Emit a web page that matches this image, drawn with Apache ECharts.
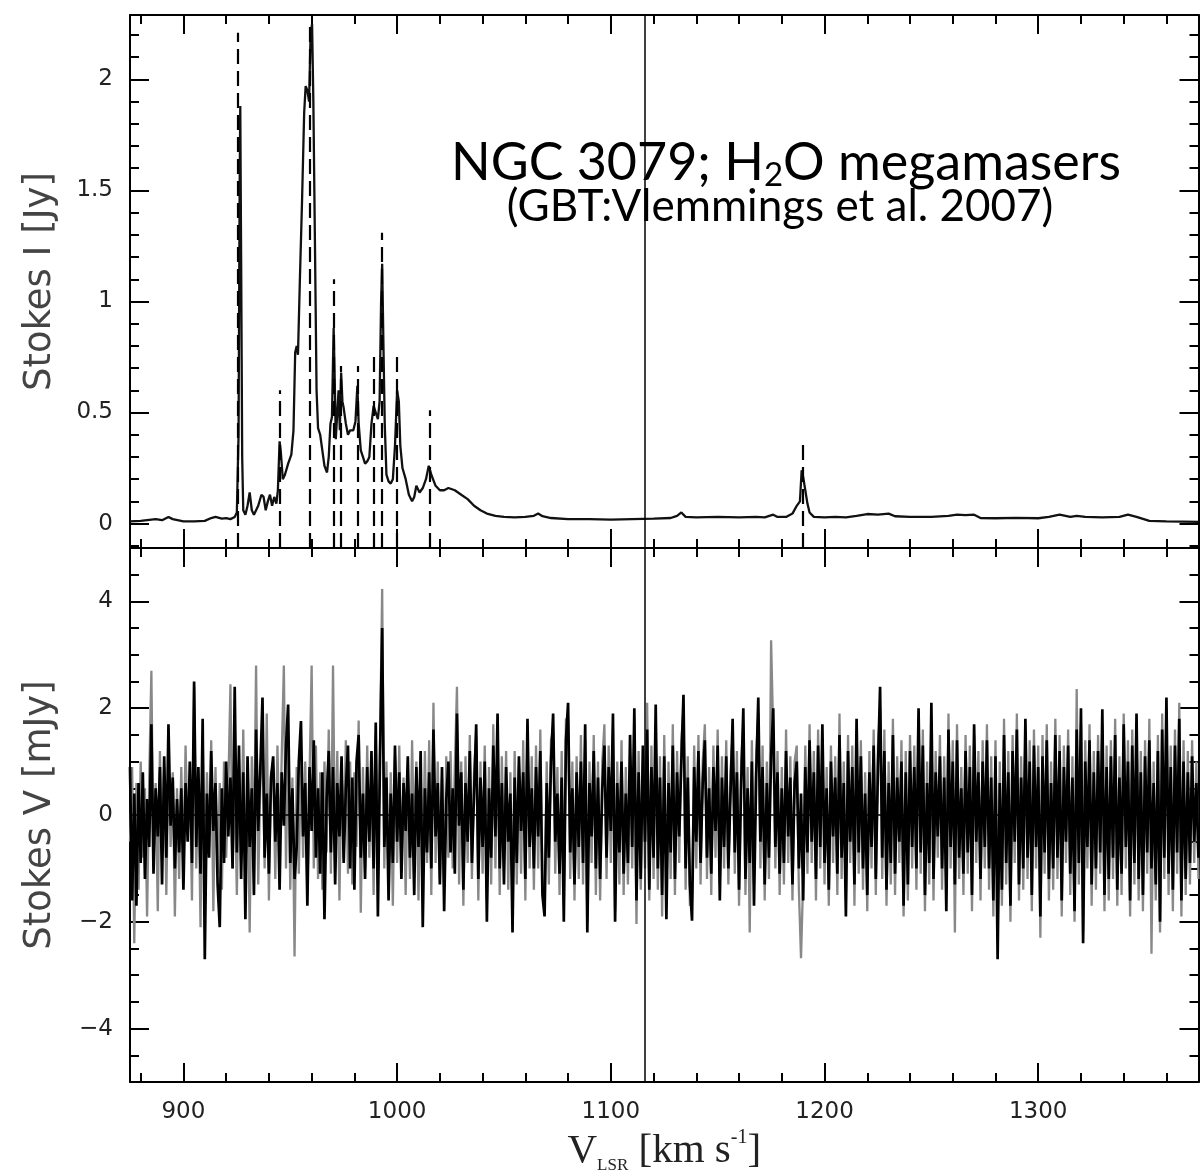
<!DOCTYPE html>
<html>
<head>
<meta charset="utf-8">
<title>NGC 3079 H2O megamasers</title>
<script src="https://cdn.jsdelivr.net/npm/echarts/dist/echarts.min.js"></script>
<style>
  html, body { margin: 0; padding: 0; background: #fff; }
  #chart { width: 1200px; height: 1175px; }
</style>
</head>
<body>
<div id="chart"></div>
<script>
  // Stokes I spectrum (km/s, Jy)
  var stokesIVel = [875, 880, 885, 887, 890, 893, 895, 900, 905, 910, 913, 915, 918, 920, 922, 924, 925,
    925.8, 926.3, 926.6, 927, 927.5, 928, 929, 930, 931, 932, 933, 934, 935, 936.5, 937.5, 938.5, 939.5,
    940.5, 941.5, 942.5, 943.5, 944.2, 945, 945.6, 946.5, 947.5, 949, 950.5, 951.5, 952.3, 953, 953.6,
    954.5, 955.5, 956.5, 957.2, 958, 958.8, 959.5, 960.2, 960.8, 961.5, 962.3, 963, 964, 965, 966, 967.2,
    968, 968.8, 969.5, 970.3, 970.8, 971.3, 972, 972.6, 973.2, 973.8, 974.4, 975, 976, 977, 978, 979.5,
    980.5, 981.4, 982, 983, 984, 985, 986, 987, 988, 989, 990, 991, 991.8, 992.5, 993, 993.6, 994.2, 995,
    996, 997, 998, 999, 1000, 1000.8, 1001.5, 1002.5, 1004, 1005.5, 1007, 1008, 1009, 1010.5, 1012, 1013.5,
    1014.8, 1016, 1018, 1020, 1022, 1024, 1027, 1030, 1033, 1036, 1039, 1042, 1046, 1050, 1055, 1060, 1064,
    1066, 1068, 1072, 1080, 1090, 1100, 1110, 1120, 1128, 1131, 1133, 1135, 1140, 1150, 1160, 1168, 1172,
    1176, 1178, 1182, 1185, 1187, 1188.5, 1189.3, 1190, 1191, 1192, 1193, 1195, 1200, 1205, 1210, 1215,
    1220, 1225, 1230, 1233, 1240, 1250, 1258, 1262, 1266, 1270, 1273, 1280, 1290, 1300, 1305, 1310, 1315,
    1318, 1322, 1330, 1338, 1342, 1346, 1352, 1360, 1375];
  var stokesIJy = [0.01, 0.012, 0.018, 0.02, 0.015, 0.03, 0.02, 0.01, 0.01, 0.012, 0.025, 0.03, 0.022, 0.025, 0.02, 0.03, 0.05,
    0.4, 1.5, 1.88, 1.2, 0.3, 0.06, 0.04, 0.08, 0.14, 0.06, 0.04, 0.06, 0.08, 0.13, 0.12, 0.06, 0.1,
    0.13, 0.08, 0.12, 0.09, 0.15, 0.37, 0.32, 0.2, 0.22, 0.27, 0.31, 0.42, 0.77, 0.8, 0.76,
    1.1, 1.45, 1.85, 1.97, 1.95, 1.9, 2.2, 2.25, 1.9, 1.3, 0.6, 0.43, 0.4, 0.33, 0.26, 0.23,
    0.3, 0.45, 0.48, 0.88, 0.65, 0.38, 0.5, 0.6, 0.42, 0.68, 0.55, 0.52, 0.45, 0.4, 0.42, 0.42,
    0.46, 0.62, 0.45, 0.33, 0.3, 0.27, 0.28, 0.3, 0.45, 0.53, 0.5, 0.47, 0.55, 1.0, 1.17, 0.8, 0.45, 0.22,
    0.19, 0.18, 0.2, 0.35, 0.6, 0.55, 0.35, 0.25, 0.2, 0.13, 0.1, 0.12, 0.17, 0.14, 0.16, 0.2,
    0.26, 0.22, 0.17, 0.15, 0.15, 0.16, 0.15, 0.13, 0.11, 0.08, 0.06, 0.045, 0.035, 0.03, 0.028, 0.03, 0.035,
    0.045, 0.033, 0.025, 0.02, 0.02, 0.018, 0.02, 0.022, 0.025, 0.035, 0.05, 0.03, 0.028, 0.03, 0.028, 0.03, 0.028,
    0.04, 0.03, 0.03, 0.045, 0.08, 0.1, 0.24, 0.21, 0.15, 0.09, 0.05, 0.03, 0.028, 0.03, 0.028, 0.035,
    0.043, 0.04, 0.045, 0.033, 0.03, 0.03, 0.035, 0.04, 0.038, 0.04, 0.025, 0.024, 0.026, 0.024, 0.03, 0.04, 0.03,
    0.035, 0.03, 0.028, 0.03, 0.04, 0.03, 0.012, 0.01, 0.008];

  // maser components marked with dashed lines (km/s, top of the dash in Jy)
  var maserVel = [925.2, 945.1, 959.3, 970.3, 973.8, 981.5, 989.0, 992.7, 1000.0, 1015.2, 1189.8];
  var maserTop = [2.21, 0.60, 2.26, 1.10, 0.71, 0.71, 0.78, 1.31, 0.78, 0.51, 0.37];

  // Stokes V (mJy), one channel per km/s starting at 875 km/s
  var vChanStart = 875;
  var vChanStep = 1;
  var stokesVBlack = [
    0.9, -1.6, 0.4, -1.7, 0.6, -0.9, 0.8, -1.2, 0.3, -0.6,
    1.7, -1.1, 0.5, -0.4, 0.9, -1.3, 1.1, -0.8, 1.7, -0.2,
    0.7, -1.0, 0.3, -0.7, 0.5, -1.4, 0.6, -0.5, 1.0, -0.9,
    2.5, -0.6, 0.9, -1.1, 1.8, -2.7, 0.4, -0.8, 1.2, -0.3,
    0.6, -1.3, -2.1, 0.5, -0.9, 1.0, -0.4, 0.7, -1.0, 2.4,
    -0.7, 1.3, -1.2, 0.8, -1.95, 1.1, -0.6, 0.5, -1.5, 1.6,
    -0.3, 0.9, 2.2, -0.8, 0.4, -1.1, 0.7, 1.1, -0.5, 0.6,
    -1.4, 0.8, -0.2, 1.3, 2.07, -0.9, 0.5, -1.2, -0.6, 1.0,
    1.76, -0.4, 0.6, -1.7, 0.9, -0.3, 1.4, -0.8, 0.5, -1.1,
    0.8, -1.95, 0.3, 1.2, -0.7, 0.9, -1.3, 0.6, -0.4, 1.1,
    -0.9, 0.5, 1.3, -1.0, 0.7, -1.4, 1.0, 1.5, -0.8, 0.4,
    -1.2, 0.9, -0.5, 1.2, -1.0, 1.73, -1.9, 1.1, 3.5, -0.6,
    0.7, -1.6, 0.4, -0.9, 1.3, -0.5, 0.8, -1.2, 0.6, -0.3,
    1.1, -0.8, 0.4, -1.5, 0.9, -0.6, 1.2, -2.1, 0.5, -0.7,
    0.8, -1.0, 1.6, -0.4, 0.6, -1.3, 0.9, -1.8, 0.3, 1.0,
    -0.7, 0.5, -1.1, 1.9, -0.2, 0.8, -1.4, 0.6, -0.5, 1.2,
    -0.9, 0.4, 1.7, -1.2, 0.7, -0.6, 1.0, -2.0, 0.5, -0.8,
    1.3, -0.4, 1.9, -1.0, 0.6, -1.3, 0.9, -0.5, 0.4, -2.2,
    0.7, -0.9, 1.1, -0.3, 0.8, -1.2, 1.8, -0.6, 0.5, -1.0,
    0.9, -0.4, 1.2, -1.5, -1.9, 0.6, -0.8, 1.0, 1.9, -0.5,
    0.4, -1.1, 0.7, -2.0, 1.4, 2.1, -0.7, 0.5, -1.3, 0.8,
    -0.6, 1.0, -0.9, 1.7, -2.2, 0.6, -0.4, 1.2, -1.0, 0.7,
    -1.2, 0.5, 1.3, -0.8, 0.9, -0.3, 1.9, -2.0, 0.6, -0.7,
    1.0, -1.1, 0.4, -0.9, 1.5, -0.6, 2.0, -1.6, 0.8, -1.2,
    1.3, -0.5, 1.6, -1.4, 0.9, -0.8, 2.07, -1.0, 0.7, -1.5,
    1.1, -1.95, 0.6, -0.7, 1.3, -1.2, 0.8, -0.4, 1.0, 2.25,
    -1.0, 0.7, -1.3, -1.98, 0.9, -0.5, 1.2, -0.9, 0.6, 1.4,
    -0.8, 0.5, -1.1, 0.9, -0.3, 1.3, -1.6, 0.7, -0.6, 1.1,
    -1.0, 0.4, 1.8, -0.7, 0.8, -1.4, 0.6, 2.0, -1.2, 0.5,
    -0.9, 1.0, -1.7, 0.7, 2.2, -0.5, 0.9, -1.3, 0.6, -0.8,
    1.1, 2.0, -0.6, 0.8, -1.1, 0.5, -0.9, 1.2, -0.4, 0.7,
    -1.3, 0.6, 1.0, -1.0, 0.4, -1.6, 0.9, -0.7, 1.4, -0.5,
    0.8, -1.2, 1.3, -0.6, 1.7, -0.9, 0.5, -1.4, 1.0, -0.4,
    0.7, -1.1, 1.5, -0.8, 0.6, -1.9, 1.2, -0.5, 0.9, -1.3,
    1.8, -0.7, 1.1, -1.0, 0.4, -1.5, 0.8, -0.6, 1.3, -1.2,
    0.9, 2.4, -0.8, 1.2, -1.4, 0.6, -0.9, 1.5, -1.1, 0.7,
    -0.5, 1.0, -1.7, 0.8, -1.3, 1.2, -0.6, 0.9, -1.0, 2.0,
    -0.7, 1.3, -1.5, 0.6, -0.9, 2.1, -1.2, 0.8, -0.4, 1.1,
    -1.0, 0.7, -1.8, 1.6, -0.6, 1.0, -1.3, 1.4, -0.8, 0.5,
    -1.1, 1.2, -0.7, 0.9, -1.5, 1.7, -0.5, 0.8, -1.2, 1.0,
    -0.6, 1.4, -1.0, 0.7, -1.6, 1.1, -2.7, 0.6, -1.4, 1.5,
    -0.9, 0.8, -1.7, 1.2, -0.5, 1.6, -1.3, 0.7, -1.0, 1.8,
    -0.8, 1.0, -1.5, 1.3, -0.6, 0.9, -1.9, 1.1, -0.7, 1.4,
    -1.2, 0.6, -1.0, 1.5, -0.8, 1.2, -1.6, 0.9, -0.5, 1.3,
    -1.1, 0.7, -1.8, 1.6, -0.9, 2.0, -2.4, 1.0, -0.6, 1.4,
    -1.3, 0.8, -1.0, 1.2, -0.7, 1.98, -1.5, 0.9, -1.2, 1.1,
    -0.8, 1.5, -1.4, 0.7, -1.1, 1.7, -0.6, 1.0, -1.6, 1.3,
    -0.9, 1.9, -1.2, 0.8, -1.5, 1.1, -0.7, 1.4, -1.0, 0.6,
    -1.3, 1.2, -2.0, 1.6, -0.8, 2.2, -1.1, 0.9, -1.4, 1.3,
    -0.7, 1.8, -1.6, 1.0, -1.2, 0.8, -0.9, 1.1, -0.5, 0.6,
    -0.8];
  var stokesVGray = [
    -0.5, 0.9, -2.4, 0.6, -1.4, 1.0, -0.8, 0.5, -1.9, 0.7,
    2.7, -0.9, 0.6, -1.8, 1.2, -0.7, 0.9, -1.5, 1.0, -0.6,
    0.8, -1.9, 0.5, -1.2, 0.9, -1.0, 1.3, -0.4, 0.7, -1.6,
    2.4, -1.0, 0.6, -2.1, 1.5, -1.2, 0.8, -0.6, 1.4, -1.8,
    0.9, -1.1, 0.6, -1.4, 1.0, -0.8, 0.5, 2.45, -1.0, 0.7,
    -1.5, 1.0, -0.9, 1.6, -1.2, 0.8, -2.2, 1.1, -0.7, 2.8,
    -1.3, 0.6, 1.5, -1.0, 1.9, -1.6, 0.8, 0.9, -1.2, 1.3,
    -0.8, 1.1, 2.8, -1.0, 1.5, -1.4, 0.7, -2.65, 0.9, -1.1,
    1.2, -0.8, 1.0, -1.5, 0.7, 2.8, -1.0, 1.3, -1.2, 0.8,
    -1.4, 1.0, -0.7, 1.6, -1.1, 2.8, -0.9, 1.2, -1.6, 0.9,
    -0.8, 1.4, -1.1, 1.0, -1.3, 0.8, -0.6, 1.77, -1.83, 0.9,
    -1.0, 1.3, -0.8, 1.0, -1.5, 1.5, -1.2, 1.3, 4.23, -1.0,
    1.0, -1.3, 0.8, -1.7, 1.1, -0.9, 1.3, -1.0, 0.7, -1.5,
    0.9, -1.2, 1.4, -0.8, 1.0, -1.6, 0.8, -1.1, 1.2, -0.9,
    1.4, -1.5, 2.1, -0.9, 1.0, -1.2, 0.7, -1.4, 1.1, -0.8,
    1.2, -1.0, 0.9, 2.4, -1.3, 1.0, -1.7, 1.1, -0.9, 1.5,
    -1.2, 0.8, 1.5, -1.6, 1.0, -1.1, 1.3, -1.6, 0.9, -1.3,
    1.7, -1.0, 1.4, -1.5, 1.1, -0.9, 1.2, -1.4, 0.8, -1.9,
    1.2, -1.3, 0.9, -1.1, 1.4, -1.6, 1.6, -1.0, 1.1, -1.4,
    1.3, -1.0, 1.6, -1.2, -1.7, 1.0, -1.3, 1.4, 1.6, -1.1,
    0.9, -1.5, 1.2, -1.7, 1.8, 1.8, -1.2, 1.0, -1.6, 1.1,
    -1.2, 1.5, -1.3, 1.4, -2.0, 1.0, -0.9, 1.5, -1.5, 1.0,
    -1.6, 1.0, 1.7, -1.2, 1.3, -0.9, 1.6, -1.8, 1.0, -1.3,
    1.4, -1.5, 0.9, -1.3, 1.1, -1.0, 1.8, -2.04, 1.2, -1.4,
    1.0, -1.0, 2.1, -1.6, 1.3, -1.2, 1.7, -1.4, 1.1, -1.9,
    1.5, -1.6, 1.0, -1.2, 1.7, -1.5, 1.2, -0.9, 1.4, 2.0,
    -1.4, 1.1, -1.7, -1.6, 1.3, -1.0, 1.5, -1.3, 1.0, 1.7,
    -1.2, 0.9, -1.5, 1.3, -0.8, 1.6, -1.3, 1.1, -1.0, 1.4,
    -1.3, 0.8, 1.5, -1.1, 1.2, -1.7, 1.0, 1.7, -1.5, 0.9,
    -2.2, 1.4, -1.3, 1.1, 1.9, -1.0, 1.3, -1.6, 1.0, -1.2,
    3.27, 1.5, -1.0, 1.2, -1.5, 0.9, -1.3, 1.6, -0.9, 1.1,
    -1.6, 1.0, 1.3, -1.4, -2.68, -1.2, 1.3, -1.1, 1.7, -0.9,
    1.2, -1.6, 1.6, -1.0, 1.4, -1.3, 0.9, -1.7, 1.3, -0.9,
    1.1, -1.5, 1.9, -1.2, 1.0, -1.6, 1.5, -0.9, 1.3, -1.7,
    1.5, -1.1, 1.4, -1.4, 0.8, -1.8, 1.2, -1.0, 1.6, -1.5,
    1.3, 2.0, -1.2, 1.6, -1.7, 1.0, -1.3, 1.8, -1.5, 1.1,
    -0.9, 1.4, -1.9, 1.2, -1.6, 1.5, -1.0, 1.3, -1.4, 1.8,
    -1.1, 1.6, -1.8, 1.0, -1.3, 1.8, -1.6, 1.2, -0.8, 1.5,
    -1.4, 1.1, -1.5, 1.9, -1.0, 1.4, -2.2, 1.7, -1.2, 0.9,
    -1.5, 1.5, -1.1, 1.3, -1.8, 1.5, -0.9, 1.2, -1.6, 1.4,
    -1.0, 1.7, -1.4, 1.1, -1.9, 1.4, -2.2, 1.0, -1.7, 1.8,
    -1.3, 1.2, -2.0, 1.5, -0.9, 1.9, -1.6, 1.1, -1.4, 1.6,
    -1.2, 1.4, -1.8, 1.6, -1.0, 1.3, -2.3, 1.5, -1.1, 1.7,
    -1.6, 1.0, -1.4, 1.8, -1.2, 1.5, -1.9, 1.3, -0.9, 1.6,
    -1.5, 1.1, -2.0, 2.36, -1.3, 1.7, -2.2, 1.4, -1.0, 1.7,
    -1.7, 1.2, -1.4, 1.5, -1.1, 1.7, -1.8, 1.3, -1.6, 1.4,
    -1.2, 1.8, -1.7, 1.1, -1.5, 1.9, -1.0, 1.4, -1.9, 1.6,
    -1.3, 1.7, -1.6, 1.2, -1.8, 1.4, -1.1, 1.8, -2.6, 1.0,
    -1.6, 1.5, -2.2, 1.9, -1.2, 2.0, -1.5, 1.3, -1.8, 1.6,
    -1.1, 2.1, -1.9, 1.4, -1.5, 1.2, -1.3, 1.4, -0.9, 1.0,
    -1.2];

  var markerVel = 1116;   // solid vertical line through both panels

  var xRange = [875, 1375];
  var yRangeI = [-0.11, 2.29];
  var yRangeV = [-5, 5];

  function pairs(xs, ys) {
    return ys.map(function (y, i) { return [xs[i], y]; });
  }
  function channels(vals) {
    return vals.map(function (y, i) { return [vChanStart + i * vChanStep, y]; });
  }
  function plainNum(v) {
    return String(v).replace('-', '\u2212');
  }

  var tickFont = 'DejaVu Sans';
  var axisLine = { show: true, onZero: false, lineStyle: { color: '#000', width: 2 } };
  var majorTick = { show: true, inside: true, length: 19, lineStyle: { color: '#000', width: 2 } };
  var minorTick = function (n) {
    return { show: true, splitNumber: n, length: 9, lineStyle: { color: '#000', width: 2 } };
  };

  function xAxisFor(grid, pos, labels) {
    return {
      type: 'value', gridIndex: grid, position: pos, min: xRange[0], max: xRange[1],
      splitNumber: 5, axisLine: axisLine, axisTick: majorTick, minorTick: minorTick(5),
      splitLine: { show: false },
      axisLabel: {
        show: labels, showMinLabel: false, showMaxLabel: false, margin: 19,
        color: '#222', fontSize: 23, fontFamily: tickFont, formatter: plainNum
      }
    };
  }
  function yAxisFor(grid, pos, range, minorSplit, labels) {
    return {
      type: 'value', gridIndex: grid, position: pos, min: range[0], max: range[1],
      splitNumber: 5, axisLine: axisLine, axisTick: majorTick, minorTick: minorTick(minorSplit),
      splitLine: { show: false },
      axisLabel: {
        show: labels, showMinLabel: false, showMaxLabel: false, margin: 17,
        color: '#222', fontSize: 23, fontFamily: tickFont, formatter: plainNum
      }
    };
  }

  var xTopB = xAxisFor(0, 'bottom', false);
  var xTopT = xAxisFor(0, 'top', false);
  var xBotB = xAxisFor(1, 'bottom', true);
  var xBotT = xAxisFor(1, 'top', false);
  xBotB.name = '{v|V}{s|LSR}{v| [km s}{p|-1}{v|]}';
  xBotB.nameLocation = 'middle';
  xBotB.nameGap = 46;
  xBotB.nameTextStyle = {
    rich: {
      v: { fontFamily: 'Liberation Serif', fontSize: 41, color: '#222', lineHeight: 46 },
      s: { fontFamily: 'Liberation Serif', fontSize: 17, color: '#222', verticalAlign: 'bottom', lineHeight: 30 },
      p: { fontFamily: 'Liberation Serif', fontSize: 20, color: '#222', verticalAlign: 'top', lineHeight: 34 }
    }
  };

  var yTopL = yAxisFor(0, 'left', yRangeI, 5, true);
  var yTopR = yAxisFor(0, 'right', yRangeI, 5, false);
  var yBotL = yAxisFor(1, 'left', yRangeV, 4, true);
  var yBotR = yAxisFor(1, 'right', yRangeV, 4, false);
  yTopL.name = 'Stokes I [Jy]';
  yBotL.name = 'Stokes V [mJy]';
  [yTopL, yBotL].forEach(function (ax) {
    ax.nameLocation = 'middle';
    ax.nameRotate = 90;
    ax.nameGap = 71;
    ax.nameTextStyle = { fontFamily: tickFont, fontSize: 37, color: '#444' };
  });

  var maserLines = maserVel.map(function (v, i) {
    return [{ coord: [v, yRangeI[0]] }, { coord: [v, maserTop[i]] }];
  });

  var chart = echarts.init(document.getElementById('chart'));
  var option = {
    animation: false,
    backgroundColor: '#fff',
    grid: [
      { left: 130, right: 1.5, top: 15, height: 533, outerBoundsMode: 'none' },
      { left: 130, right: 1.5, top: 548, height: 534, outerBoundsMode: 'none' }
    ],
    xAxis: [xTopB, xTopT, xBotB, xBotT],
    yAxis: [yTopL, yTopR, yBotL, yBotR],
    graphic: [
      {
        type: 'text', z: 100,
        style: {
          x: 786, y: 163, text: '{a|NGC 3079; H}{b|2}{a|O megamasers}',
          align: 'center', verticalAlign: 'middle',
          rich: {
            a: { fontFamily: 'Lato', fontSize: 52, fill: '#000', lineHeight: 58 },
            b: { fontFamily: 'Lato', fontSize: 33, fill: '#000', verticalAlign: 'bottom', lineHeight: 42 }
          }
        }
      },
      {
        type: 'text', z: 100,
        style: {
          x: 780, y: 207, text: '(GBT:Vlemmings et al. 2007)',
          align: 'center', verticalAlign: 'middle',
          fontFamily: 'Lato', fontSize: 44, fill: '#000'
        }
      }
    ],
    series: [
      {
        name: 'Stokes I', type: 'line', xAxisIndex: 0, yAxisIndex: 0,
        data: pairs(stokesIVel, stokesIJy), showSymbol: false, symbol: 'none',
        lineStyle: { color: '#111', width: 2.3 },
        markLine: {
          silent: true, symbol: ['none', 'none'], label: { show: false },
          lineStyle: { color: '#000', width: 2.2, type: [15, 7] },
          data: maserLines.concat([[
            { coord: [markerVel, yRangeI[0]], lineStyle: { type: 'solid', width: 1.5 } },
            { coord: [markerVel, yRangeI[1]] }
          ]])
        }
      },
      {
        name: 'Stokes V (grey)', type: 'line', xAxisIndex: 2, yAxisIndex: 2,
        data: channels(stokesVGray), showSymbol: false, symbol: 'none',
        lineStyle: { color: '#888', width: 2.3 }
      },
      {
        name: 'Stokes V', type: 'line', xAxisIndex: 2, yAxisIndex: 2,
        data: channels(stokesVBlack), showSymbol: false, symbol: 'none',
        lineStyle: { color: '#000', width: 2.7 },
        markLine: {
          silent: true, symbol: ['none', 'none'], label: { show: false },
          lineStyle: { color: '#000', width: 1.5, type: 'solid' },
          data: [
            [{ coord: [markerVel, yRangeV[0]] }, { coord: [markerVel, yRangeV[1]] }],
            [{ coord: [xRange[0], 0] }, { coord: [xRange[1], 0] }]
          ]
        }
      }
    ]
  };
  chart.setOption(option);
</script>
</body>
</html>
